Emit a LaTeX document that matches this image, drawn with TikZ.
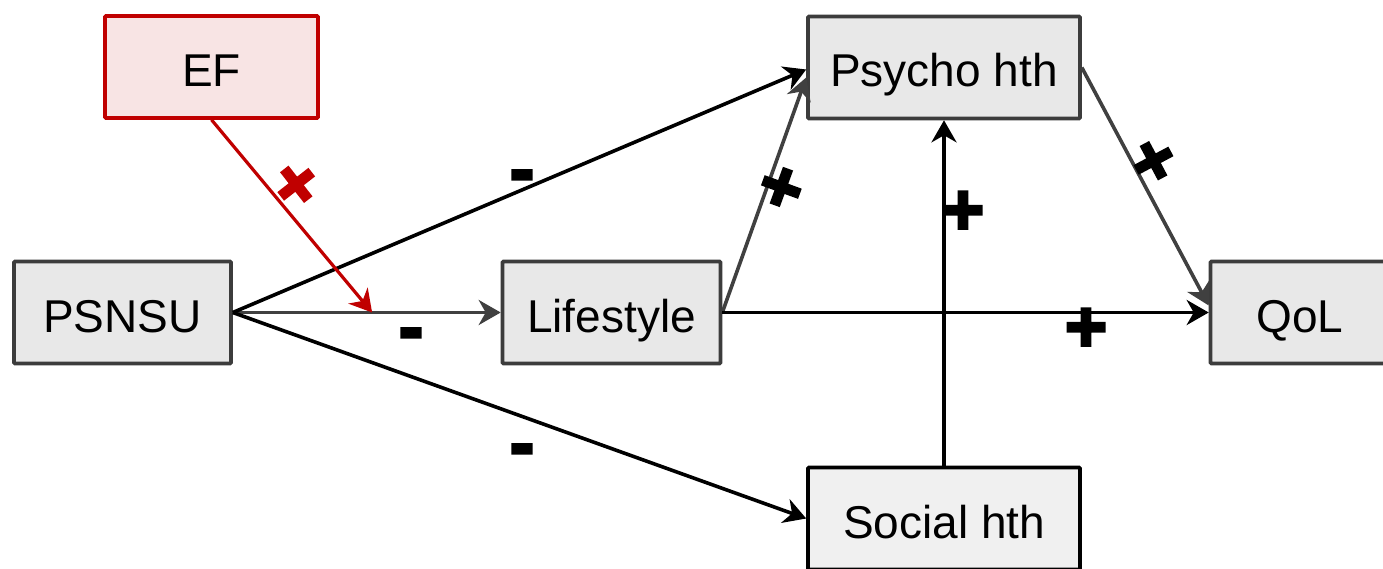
\documentclass[tikz,border=0pt]{standalone}
\usepackage{fontspec}
\setmainfont{Liberation Sans}
\newfontfamily\signfont[UprightFont={* Bold},FakeBold=4]{Liberation Sans}
\usetikzlibrary{arrows.meta,calc}
\definecolor{boxgray}{HTML}{E8E8E8}
\definecolor{boxline}{HTML}{3C3C3C}
\definecolor{efred}{HTML}{C00000}
\definecolor{efpink}{HTML}{F8E4E4}
\definecolor{socfill}{HTML}{F0F0F0}
\definecolor{edgegray}{HTML}{404040}
\begin{document}
\begin{tikzpicture}[x=1pt,y=-1pt,
  box/.style={draw=boxline, fill=boxgray, line width=3.6pt, rounded corners=1pt,
    inner sep=0pt, minimum height=102pt, text height=44pt, text depth=5pt,
    font=\fontsize{46}{55}\selectfont},
  conn/.style={line width=3.6pt, -{Stealth[length=22pt,width=25pt,inset=7pt]}},
  sign/.style={inner sep=0pt, font=\signfont\fontsize{72}{72}\selectfont},
  minus/.style={sign, yshift=-9pt},
]
\useasboundingbox (0,0) rectangle (1383,569);
\node[box, draw=efred, fill=efpink, minimum width=213pt] (ef) at (211.5,67) {EF};
\node[box, minimum width=217pt] (ps) at (122.5,312.5) {PSNSU};
\node[box, minimum width=218pt] (life) at (611.5,312.5) {Lifestyle};
\node[box, minimum width=272pt] (psy) at (944,67.5) {Psycho hth};
\node[box, minimum width=179pt] (qol) at (1300,312.5) {QoL};
\node[box, draw=black, fill=socfill, minimum width=272pt] (soc) at (944,518.5) {Social hth};
\coordinate (m) at ($(ps.east)!0.52!(life.west)$);
% connectors
\draw[conn, edgegray] (ps.east) -- (life.west);
\draw[conn, black] (ps.east) -- ([yshift=-2pt]psy.west);
\draw[conn, black] (ps.east) -- (soc.west);
\draw[conn, edgegray] (life.east) -- ([yshift=-10pt]psy.west);
\draw[conn, black] (life.east) -- (qol.west);
\draw[conn, black] (soc.north) -- (psy.south);
\draw[conn, edgegray] (psy.east) -- ([yshift=7pt]qol.west);
\draw[conn, efred, line width=3.2pt] (ef.south) -- (m);
% signs
\node[sign, text=efred, rotate=-52] (s1) at (294,186) {+};
\node[sign, rotate=70] (s2) at (784,188) {+};
\node[sign] (s3) at (963,213) {+};
\node[sign, rotate=-62] (s4) at (1151,162) {+};
\node[sign] (s5) at (1086,330) {+};
\node[minus] (s6) at (522,173) {-};
\node[minus] (s7) at (411,331) {-};
\node[minus] (s8) at (522,447) {-};
\end{tikzpicture}
\end{document}
